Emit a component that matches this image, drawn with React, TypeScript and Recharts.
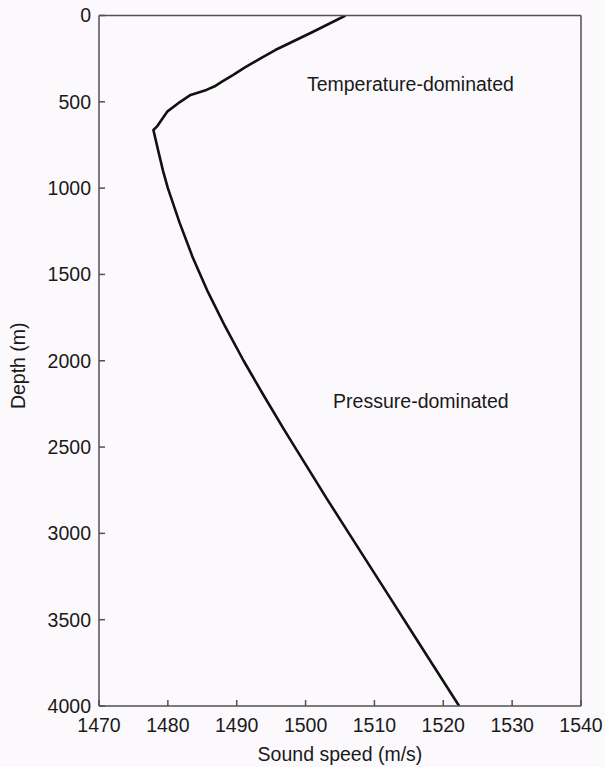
import React from 'react';
import { LineChart, Line, XAxis, YAxis, ReferenceDot } from 'recharts';

// sound speed profile
const depths = [0, 100, 200, 250, 300, 344, 385, 410, 431, 460, 500, 557, 615, 644, 663, 800, 900, 1000, 1200, 1400, 1600, 1800, 2000, 2200, 2400, 2600, 2800, 3000, 3200, 3400, 3600, 3800, 4000];
const speeds = [1505.8, 1500.8, 1495.6, 1493.4, 1491.2, 1489.5, 1487.8, 1486.8, 1485.6, 1483.3, 1481.8, 1479.9, 1478.9, 1478.4, 1477.9, 1478.7, 1479.3, 1480, 1481.7, 1483.6, 1485.8, 1488.3, 1491, 1493.9, 1496.9, 1500, 1503.1, 1506.3, 1509.5, 1512.7, 1515.9, 1519.1, 1522.3];

const speedTicks = [1470, 1480, 1490, 1500, 1510, 1520, 1530, 1540];
const depthTicks = [0, 500, 1000, 1500, 2000, 2500, 3000, 3500, 4000];

const notes = [
  { text: 'Temperature-dominated', speed: 1500.2, depth: 437 },
  { text: 'Pressure-dominated', speed: 1504, depth: 2272 },
];

const FONT = '"Liberation Sans", Arial, Helvetica, sans-serif';
const AXIS_COLOR = '#505050';
const TEXT_COLOR = '#1a1a1a';

const data = depths.map((d, i) => ({ depth: d, speed: speeds[i] }));

const NoteLabel = (text: string) => (props: any) => {
  const { viewBox } = props;
  return (
    <text x={viewBox.x} y={viewBox.y} fontSize={19.5} fontFamily={FONT} fill={TEXT_COLOR} textAnchor="start">
      {text}
    </text>
  );
};

const YTitle = (props: any) => {
  const { viewBox } = props;
  const cy = viewBox.y + viewBox.height / 2 + 5;
  return (
    <text x={25} y={cy} transform={`rotate(-90, 25, ${cy})`} fontSize={19.5} fontFamily={FONT} fill={TEXT_COLOR} textAnchor="middle">
      Depth (m)
    </text>
  );
};

const XTitle = (props: any) => {
  const { viewBox } = props;
  const cx = viewBox.x + viewBox.width / 2;
  return (
    <text x={cx} y={761} fontSize={19.5} fontFamily={FONT} fill={TEXT_COLOR} textAnchor="middle">
      Sound speed (m/s)
    </text>
  );
};

export default function App() {
  const tickStyle = { fill: TEXT_COLOR, fontSize: 19.5, fontFamily: FONT };
  const axisLine = { stroke: AXIS_COLOR, strokeWidth: 1.5 };
  return (
    <div style={{ position: 'absolute', left: 0, top: 0, width: 605, height: 767, background: '#fcf9fc' }}>
      <LineChart width={605} height={767} data={data} margin={{ top: 14.5, right: 23, bottom: 11, left: 29 }}>
        <XAxis
          type="number"
          dataKey="speed"
          domain={[1470, 1540]}
          ticks={speedTicks}
          allowDataOverflow
          height={50}
          tickSize={-6}
          tickMargin={18}
          tick={tickStyle}
          axisLine={axisLine}
          tickLine={axisLine}
          label={<XTitle />}
        />
        <XAxis
          xAxisId="top"
          orientation="top"
          type="number"
          dataKey="speed"
          domain={[1470, 1540]}
          ticks={speedTicks}
          allowDataOverflow
          height={1}
          tickSize={-6}
          tick={false}
          axisLine={axisLine}
          tickLine={axisLine}
        />
        <YAxis
          type="number"
          dataKey="depth"
          reversed
          domain={[0, 4000]}
          ticks={depthTicks}
          allowDataOverflow
          width={70}
          tickSize={-6}
          tickMargin={14}
          tick={tickStyle}
          axisLine={axisLine}
          tickLine={axisLine}
          label={<YTitle />}
        />
        <YAxis
          yAxisId="right"
          orientation="right"
          type="number"
          dataKey="depth"
          reversed
          domain={[0, 4000]}
          ticks={depthTicks}
          allowDataOverflow
          width={1}
          tickSize={-6}
          tick={false}
          axisLine={axisLine}
          tickLine={axisLine}
        />
        <Line
          type="linear"
          dataKey="depth"
          stroke="#111111"
          strokeWidth={2.6}
          strokeLinejoin="round"
          dot={false}
          isAnimationActive={false}
        />
        {notes.map((n) => (
          <ReferenceDot key={n.text} x={n.speed} y={n.depth} r={0} fill="none" stroke="none" label={NoteLabel(n.text)} />
        ))}
      </LineChart>
    </div>
  );
}
